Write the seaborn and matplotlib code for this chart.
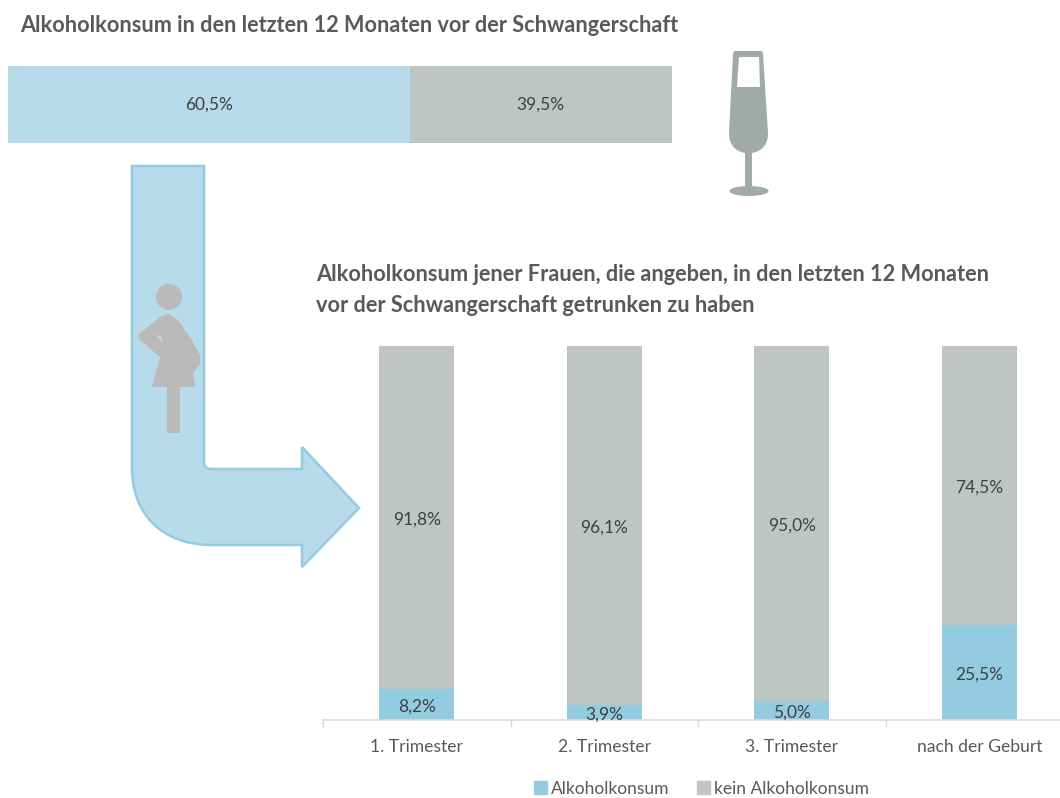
import matplotlib
matplotlib.use('Agg')
import matplotlib.pyplot as plt
from matplotlib.path import Path
from matplotlib.patches import PathPatch, Circle, Ellipse, Patch, Polygon
import pandas as pd
import seaborn as sns

# top bar
top_alc = 60.5
top_none = 39.5

# lower chart
categories = ['1. Trimester', '2. Trimester', '3. Trimester', 'nach der Geburt']
alc_values = [8.2, 3.9, 5.0, 25.5]
none_values = [91.8, 96.1, 95.0, 74.5]

title_top = 'Alkoholkonsum in den letzten 12 Monaten vor der Schwangerschaft'
title_low = ('Alkoholkonsum jener Frauen, die angeben, in den letzten 12 Monaten\n'
             'vor der Schwangerschaft getrunken zu haben')

BLUE_LIGHT = '#B7DBEA'
BLUE = '#93CBE0'
GREY = '#BFC5C1'
TEXT = '#404040'
W, H = 1060, 798

sns.set_theme(style='white')
plt.rcParams['font.family'] = ['Lato', 'DejaVu Sans']


def px_axes(fig, left, top, right, bottom):
    return fig.add_axes([left / W, 1 - bottom / H, (right - left) / W, (bottom - top) / H])


def pct(v):
    return f'{v:.1f}%'.replace('.', ',')


fig = plt.figure(figsize=(W / 100, H / 100), dpi=100)

# overlay in pixel coordinates for the arrow and the icons
deco = fig.add_axes([0, 0, 1, 1])
deco.set_xlim(0, W)
deco.set_ylim(H, 0)
deco.axis('off')

arrow_verts = [(132, 166), (204, 166), (204, 462), (204, 469), (211, 469), (302, 469),
               (302, 447), (359, 508), (302, 567), (302, 545), (212, 545),
               (160, 545), (132, 512), (132, 468), (132, 166)]
arrow_codes = [Path.MOVETO, Path.LINETO, Path.LINETO, Path.CURVE3, Path.CURVE3, Path.LINETO,
               Path.LINETO, Path.LINETO, Path.LINETO, Path.LINETO, Path.LINETO,
               Path.CURVE4, Path.CURVE4, Path.CURVE4, Path.CLOSEPOLY]
deco.add_patch(PathPatch(Path(arrow_verts, arrow_codes), fc=BLUE_LIGHT, ec=BLUE, lw=1.8))

# pregnant woman
WOMAN = '#BABABA'
deco.add_patch(Circle((169, 297), 13, fc=WOMAN, ec='none'))
deco.add_patch(Polygon([(168, 314), (178, 320), (192, 340), (200, 355), (200, 364), (193, 373),
                        (195, 387), (180, 387), (180, 433), (167, 433), (167, 387), (152, 387),
                        (160, 357), (140, 340), (138, 335), (160, 317)], fc=WOMAN, ec='none'))
deco.add_patch(Polygon([(156, 335), (161, 336), (163, 343)], fc=BLUE_LIGHT, ec='none'))

# glass, round bowl
GLASS = '#A1ABA6'
glass_verts = [(735, 51), (761, 51), (763, 51), (763, 54), (768, 133),
               (768, 150), (752, 153), (752, 190), (745, 190), (745, 153),
               (729, 150), (729, 133), (733, 54), (733, 51), (735, 51), (735, 51)]
glass_codes = [Path.MOVETO, Path.LINETO, Path.CURVE3, Path.CURVE3, Path.LINETO,
               Path.CURVE3, Path.CURVE3, Path.LINETO, Path.LINETO, Path.LINETO,
               Path.CURVE3, Path.CURVE3, Path.LINETO, Path.CURVE3, Path.CURVE3, Path.CLOSEPOLY]
deco.add_patch(PathPatch(Path(glass_verts, glass_codes), fc=GLASS, ec='none'))
deco.add_patch(Ellipse((749, 191), 39, 10, fc=GLASS, ec='none'))
deco.add_patch(Polygon([(739, 57), (759, 57), (760, 87), (737, 87)], fc='white', ec='none'))

# titles
deco.text(20, 26, title_top, fontsize=15.6, fontweight='bold', color='#595959', va='center')
deco.text(316, 290, title_low, fontsize=15.7, fontweight='bold', color='#595959', va='center',
          linespacing=1.6)

# top bar
ax_top = px_axes(fig, 8, 66, 672, 143)
ax_top.patch.set_alpha(0)
sns.barplot(x=[top_alc], y=[''], color=BLUE_LIGHT, saturation=1, width=1, orient='y', linewidth=0, ax=ax_top)
sns.barplot(x=[top_none], y=[''], left=top_alc, color=GREY, saturation=1, width=1, orient='y', linewidth=0, ax=ax_top)
ax_top.set_xlim(0, 100)
ax_top.set_ylim(0.5, -0.5)
ax_top.axis('off')
for cont, v in zip(ax_top.containers, [top_alc, top_none]):
    ax_top.bar_label(cont, labels=[pct(v)], label_type='center', fontsize=12.5, color=TEXT)

# lower stacked chart
df = pd.DataFrame({'cat': categories, 'alc': alc_values, 'none': none_values})
ax = px_axes(fig, 323, 346, 1060, 720)
ax.patch.set_alpha(0)
sns.barplot(data=df, x='cat', y='alc', color=BLUE, saturation=1, width=0.4, linewidth=0, ax=ax)
sns.barplot(data=df, x='cat', y='none', bottom=df['alc'], color=GREY, saturation=1, width=0.4, linewidth=0, ax=ax)
ax.set_xlim(-0.5, 3.43)
ax.set_ylim(0, 100)
ax.set_xlabel('')
ax.set_ylabel('')
ax.set_yticks([])
sns.despine(ax=ax, left=True)
ax.spines['bottom'].set_color('#D9D9D9')
ax.spines['bottom'].set_linewidth(1.2)
ax.tick_params(axis='x', which='major', length=0, pad=14, labelsize=12.6, labelcolor='#595959')
ax.set_xticks([-0.5, 0.5, 1.5, 2.5], minor=True)
ax.tick_params(axis='x', which='minor', bottom=True, length=5, width=1, color='#D9D9D9', direction='out')

for cont, vals in zip(ax.containers, [alc_values, none_values]):
    texts = ax.bar_label(cont, labels=[pct(v) for v in vals], label_type='center', fontsize=12.5, color=TEXT)
    for t in texts:
        t.xyann = (0, -1.5)

handles = [Patch(color=BLUE, label='Alkoholkonsum'), Patch(color=GREY, label='kein Alkoholkonsum')]
fig.legend(handles=handles, loc='center', bbox_to_anchor=(701.5 / W, 1 - 788.5 / H), ncol=2, frameon=False,
           fontsize=12.5, labelcolor='#595959', handlelength=0.75, handleheight=0.75,
           handletextpad=0.2, columnspacing=1.6)

fig.savefig('out.png', dpi=100)
